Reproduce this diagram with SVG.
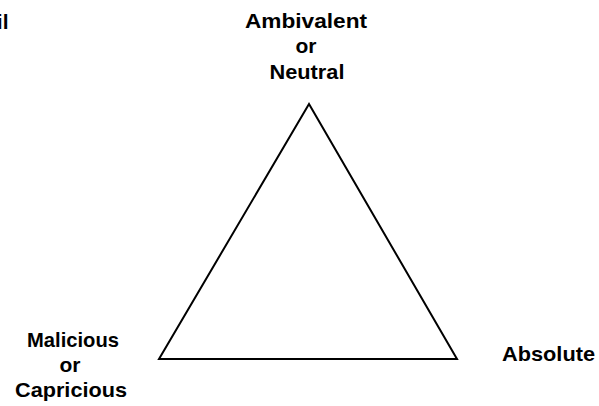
<svg xmlns="http://www.w3.org/2000/svg" width="599" height="406" viewBox="0 0 599 406">
  <style>
    .lbl { font-family: "Liberation Sans", Arial, sans-serif; font-size: 21px; font-weight: bold; fill: #000; }
    .mid { text-anchor: middle; }
    .shape { fill: none; stroke: #000; stroke-width: 2; stroke-linejoin: miter; }
  </style>
  <rect width="599" height="406" fill="#fff"/>
  <g id="connectors">
    <polygon class="shape" points="309,104 159,359 457,359"/>
  </g>
  <g id="node-evil">
    <text class="lbl" x="8.5" y="29" text-anchor="end">Evil</text>
  </g>
  <g id="node-ambivalent">
    <text class="lbl mid" x="306" y="28" textLength="122" lengthAdjust="spacingAndGlyphs">Ambivalent</text>
    <text class="lbl mid" x="306" y="53">or</text>
    <text class="lbl mid" x="307" y="79" textLength="75" lengthAdjust="spacingAndGlyphs">Neutral</text>
  </g>
  <g id="node-malicious">
    <text class="lbl mid" x="73" y="347" textLength="92" lengthAdjust="spacingAndGlyphs">Malicious</text>
    <text class="lbl mid" x="70" y="372">or</text>
    <text class="lbl mid" x="71" y="397" textLength="112" lengthAdjust="spacingAndGlyphs">Capricious</text>
  </g>
  <g id="node-absolute">
    <text class="lbl" x="502" y="361" textLength="93" lengthAdjust="spacingAndGlyphs">Absolute</text>
  </g>
</svg>
